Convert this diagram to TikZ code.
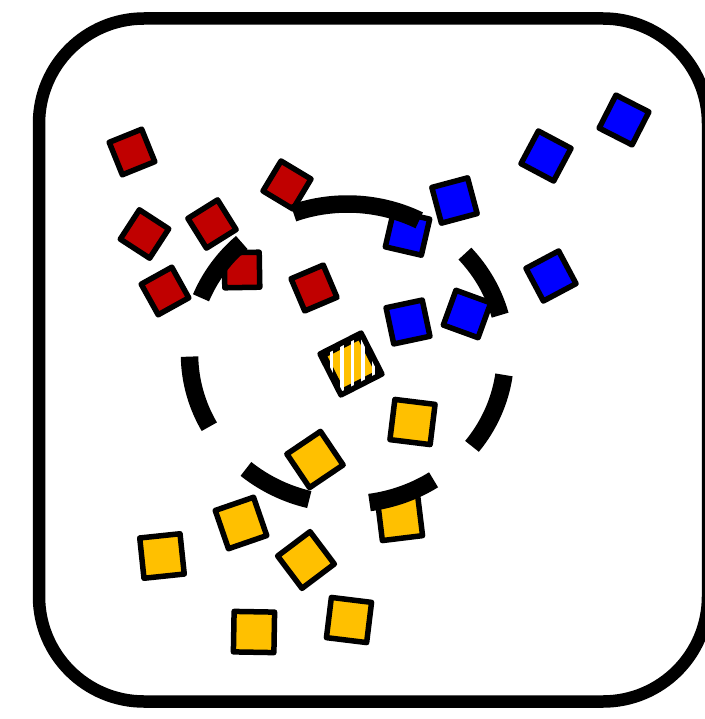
\documentclass[tikz,border=0pt]{standalone}
\definecolor{sqred}{HTML}{C00000}
\definecolor{sqblue}{HTML}{0000FF}
\definecolor{sqyellow}{HTML}{FFC000}
\begin{document}
\begin{tikzpicture}[x=1pt,y=-1pt,
  sq/.style={draw=black,line width=5.5pt,line join=round,inner sep=0pt,rectangle},
  redsq/.style={sq,fill=sqred,minimum size=35pt},
  bluesq/.style={sq,fill=sqblue,minimum size=37pt},
  yelsq/.style={sq,fill=sqyellow,minimum size=40.5pt},
  frame/.style={draw=black,line width=12.5pt,rounded corners=105pt},
  dashseg/.style={draw=black,line width=17.5pt,line cap=butt}]
\useasboundingbox (0,0) rectangle (704,719);
\path[frame] (39,18.5) rectangle (708,701.5);
% red squares
\node[redsq,rotate=22]  (r1) at (132,152) {};
\node[redsq,rotate=-33] (r2) at (144.5,234) {};
\node[redsq,rotate=32]  (r3) at (212,224) {};
\node[redsq,rotate=29]  (r4) at (165,291) {};
\node[redsq,rotate=1]   (r5) at (242,270) {};
\node[redsq,rotate=-31] (r6) at (287,185) {};
\node[redsq,rotate=23]  (r7) at (314,288) {};
% blue squares
\node[bluesq,rotate=-27] (b1) at (624,120) {};
\node[bluesq,rotate=-28] (b2) at (546,156) {};
\node[bluesq,rotate=15]  (b3) at (454.5,200.5) {};
\node[bluesq,rotate=-13] (b4) at (407.5,233) {};
\node[bluesq,rotate=28]  (b5) at (551,276) {};
\node[bluesq,rotate=12]  (b6) at (408,322) {};
\node[bluesq,rotate=-20] (b7) at (467,314) {};
% yellow squares
\node[yelsq,rotate=-7] (y1) at (412.5,422) {};
\node[yelsq,rotate=34] (y2) at (315,459.5) {};
\node[yelsq,rotate=19] (y3) at (241,523) {};
\node[yelsq,rotate=7]  (y4) at (400,518) {};
\node[yelsq,rotate=6]  (y5) at (162,556) {};
\node[yelsq,rotate=37] (y6) at (306,560) {};
\node[yelsq,rotate=-1] (y7) at (254,632) {};
\node[yelsq,rotate=-7] (y8) at (349,620) {};
% striped square
\node[yelsq,rotate=27] (ss) at (351,364) {};
\begin{scope}
  \clip (ss.north west) -- (ss.north east) -- (ss.south east) -- (ss.south west) -- cycle;
  \foreach \xx in {321.5,331.8,342,352.5,363,373.3,383.5}
    \fill[white] (\xx-1.6,330) rectangle (\xx+1.6,400);
\end{scope}
\draw[line width=5.5pt,line join=round] (ss.north west) -- (ss.north east) -- (ss.south east) -- (ss.south west) -- cycle;
% dashed ellipse
\coordinate (c) at (347.5,354);
\foreach \a/\b in {15/42, 63/110, 132/158, 181/209, 230/256, 278/303, 322/352}
  \draw[dashseg] (c) ++(-\a:158 and 150) arc[start angle=-\a, end angle=-\b, x radius=158, y radius=150];
\end{tikzpicture}
\end{document}
